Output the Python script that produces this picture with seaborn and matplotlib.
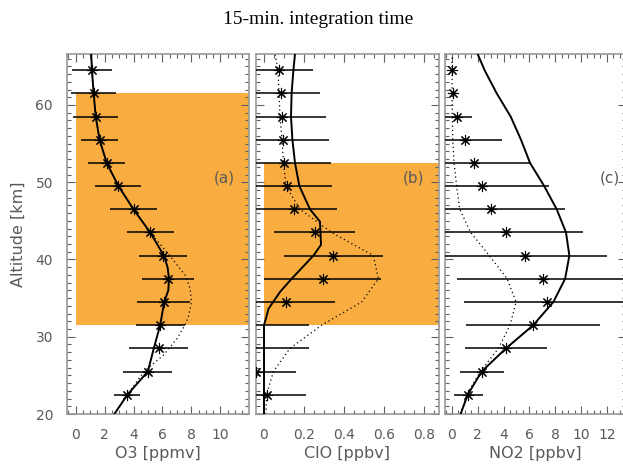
import numpy as np
import matplotlib
matplotlib.use("Agg")
import matplotlib.pyplot as plt
from matplotlib.ticker import MultipleLocator
import seaborn as sns

# ---------------- data ----------------
title = "15-min. integration time"
ylabel = "Altitude [km]"
xlabels = ["O3 [ppmv]", "ClO [ppbv]", "NO2 [ppbv]"]
panel_tags = ["(a)", "(b)", "(c)"]

# retrieval altitudes (stars)
alt_pts = [22.5, 25.5, 28.5, 31.5, 34.5, 37.5, 40.5, 43.5, 46.5, 49.5, 52.5, 55.5, 58.5, 61.5, 64.5]

# O3
o3_pts = [3.58, 4.99, 5.73, 5.84, 6.07, 6.37, 6.03, 5.15, 4.00, 2.96, 2.15, 1.66, 1.39, 1.25, 1.13]
o3_err = [0.90, 1.69, 2.03, 1.68, 1.82, 1.78, 1.68, 1.61, 1.62, 1.59, 1.29, 1.27, 1.54, 1.57, 1.37]
o3_alt_line = [20, 22.5, 25.5, 28.5, 31.5, 34.5, 36.0, 37.5, 39.0, 40.5, 43.5, 46.5, 49.5, 52.5, 55.5, 58.5, 61.5, 64.5, 66.6]
o3_solid = [2.68, 3.58, 4.99, 5.40, 5.84, 6.12, 6.40, 6.45, 6.35, 6.10, 5.15, 4.00, 2.96, 2.15, 1.66, 1.39, 1.25, 1.13, 1.08]
o3_alt_dot = [20, 22.5, 24.0, 25.5, 27.6, 29.7, 31.5, 32.7, 34.5, 36.3, 38.0, 40.5, 41.4, 43.5, 46.5, 49.5, 52.5, 55.5, 58.5, 61.5, 64.5, 66.6]
o3_dotted = [2.68, 3.58, 4.15, 4.72, 6.06, 6.98, 7.55, 7.80, 8.00, 7.90, 7.55, 6.50, 6.10, 5.15, 4.00, 2.96, 2.15, 1.66, 1.39, 1.25, 1.13, 1.08]
o3_band = [31.5, 61.5]

# ClO
clo_pts = [0.017, -0.042, -0.08, -0.08, 0.11, 0.293, 0.347, 0.253, 0.152, 0.113, 0.100, 0.097, 0.088, 0.083, 0.077]
clo_err = [0.191, 0.202, 0.307, 0.305, 0.245, 0.292, 0.246, 0.204, 0.215, 0.229, 0.233, 0.228, 0.222, 0.197, 0.166]
clo_alt_line = [20, 31.5, 32.4, 33.6, 35.8, 37.5, 40.5, 41.9, 44.9, 46.5, 49.5, 52.5, 55.5, 58.5, 61.5, 64.5, 66.6]
clo_solid = [0.0, 0.0, 0.010, 0.022, 0.080, 0.138, 0.247, 0.285, 0.280, 0.230, 0.177, 0.155, 0.142, 0.135, 0.138, 0.147, 0.155]
clo_alt_dot = [20, 22.5, 25.5, 28.5, 31.5, 34.5, 37.5, 40.5, 43.5, 46.5, 49.5, 52.5, 55.5, 58.5, 61.5, 64.5, 66.6]
clo_dotted = [0.010, 0.013, 0.047, 0.130, 0.288, 0.488, 0.572, 0.547, 0.338, 0.180, 0.110, 0.098, 0.090, 0.080, 0.075, 0.070, 0.055]
clo_band = [31.5, 52.5]

# NO2
no2_pts = [1.27, 2.30, 4.19, 6.26, 7.34, 7.09, 5.66, 4.19, 3.05, 2.33, 1.71, 0.98, 0.36, 0.05, 0.03]
no2_err = [1.11, 1.71, 3.19, 5.20, 6.38, 6.68, 6.34, 5.95, 5.72, 5.22, 4.39, 2.87, 1.17, 0.0, 0.0]
no2_alt_line = [20, 22.5, 25.5, 28.5, 31.5, 34.5, 37.5, 40.5, 43.5, 46.5, 49.5, 52.5, 55.5, 58.5, 61.5, 64.5, 66.6]
no2_solid = [0.67, 1.22, 2.30, 4.19, 6.30, 7.86, 8.77, 9.10, 8.84, 8.12, 7.15, 6.05, 5.35, 4.55, 3.47, 2.53, 1.99]
no2_dotted = [0.67, 1.14, 2.20, 3.60, 4.50, 4.97, 4.28, 2.90, 1.45, 0.60, 0.36, 0.16, 0.06, 0.02, 0.01, 0.01, 0.0]

xlims = [(-0.59, 11.97), (-0.04, 0.875), (-0.58, 13.53)]
xmajor = [2, 0.2, 2]
xminor = [0.5, 0.05, 0.5]
xticklabels = [["0", "2", "4", "6", "8", "10"],
               ["0", "0.2", "0.4", "0.6", "0.8"],
               ["0", "2", "4", "6", "8", "10", "12"]]
xtickvals = [[0, 2, 4, 6, 8, 10], [0, 0.2, 0.4, 0.6, 0.8], [0, 2, 4, 6, 8, 10, 12]]
tag_pos = [(10.3, 50.5), (0.747, 50.5), (12.25, 50.5)]
ylim = (20, 66.6)
yticks = [20, 30, 40, 50, 60]

# ---------------- style ----------------
sns.set_style("white")
plt.rcParams["font.family"] = ["DejaVu Sans"]
orange = "#F9AD40"
txt = "#5a5a5a"
spine_c = "#999999"

W, H = 623, 465
fig = plt.figure(figsize=(W / 100, H / 100), dpi=100)
boxes = [(67, 182), (256, 183), (444.5, 182)]
axes = []
for (l, w) in boxes:
    ax = fig.add_axes([l / W, (465 - 414) / H, w / W, 360 / H])
    axes.append(ax)

panels = [
    (o3_pts, o3_err, o3_alt_line, o3_solid, o3_alt_dot, o3_dotted, o3_band),
    (clo_pts, clo_err, clo_alt_line, clo_solid, clo_alt_dot, clo_dotted, clo_band),
    (no2_pts, no2_err, no2_alt_line, no2_solid, no2_alt_line, no2_dotted, None),
]

for i, (ax, p) in enumerate(zip(axes, panels)):
    pts, err, al, sol, ad, dot, band = p
    ax.set_xlim(*xlims[i])
    ax.set_ylim(*ylim)
    if band is not None:
        ax.fill_betweenx(band, 0, xlims[i][1], color=orange, lw=0, zorder=0.5)
    sns.lineplot(x=dot, y=ad, orient="y", sort=False, estimator=None, ax=ax,
                 color="k", lw=0.9, linestyle=(0, (1, 2.4)), zorder=2)
    sns.lineplot(x=sol, y=al, orient="y", sort=False, estimator=None, ax=ax,
                 color="k", lw=1.4, zorder=3)
    ax.errorbar(pts, alt_pts, xerr=err, fmt="none", ecolor="k", elinewidth=1.1,
                capsize=0, zorder=4)
    sns.scatterplot(x=pts, y=alt_pts, ax=ax, marker=(8, 2, 0), s=55,
                    color="k", linewidth=0.8, zorder=5)
    # ticks
    ax.xaxis.set_major_locator(MultipleLocator(xmajor[i]))
    ax.xaxis.set_minor_locator(MultipleLocator(xminor[i]))
    ax.yaxis.set_major_locator(MultipleLocator(10))
    ax.yaxis.set_minor_locator(MultipleLocator(1))
    ax.tick_params(which="both", direction="in", top=True, right=True,
                   bottom=True, left=True, color="#606060", labelcolor=txt,
                   labelsize=10, width=0.8)
    ax.tick_params(which="major", length=6, pad=10)
    ax.tick_params(which="minor", length=3)
    ax.set_xticks(xtickvals[i])
    ax.set_xticklabels(xticklabels[i])
    if i == 0:
        ax.set_yticks(yticks)
        ax.set_yticklabels([str(v) for v in yticks])
        ax.set_ylabel(ylabel, fontsize=11.5, color=txt, labelpad=7)
    else:
        ax.set_yticklabels([])
        ax.set_ylabel("")
    ax.set_xlabel(xlabels[i], fontsize=11.5, color=txt, labelpad=3)
    for s in ax.spines.values():
        s.set_color(spine_c)
        s.set_linewidth(1.2)
        s.set_visible(True)
    ax.text(tag_pos[i][0], tag_pos[i][1], panel_tags[i], fontsize=11,
            color=txt, ha="center", va="center", zorder=6)

fig.text(318 / W, 1 - 19 / H, title, family="Liberation Serif", fontsize=14,
         ha="center", va="center", color="k")

fig.savefig("out.png", dpi=100)
